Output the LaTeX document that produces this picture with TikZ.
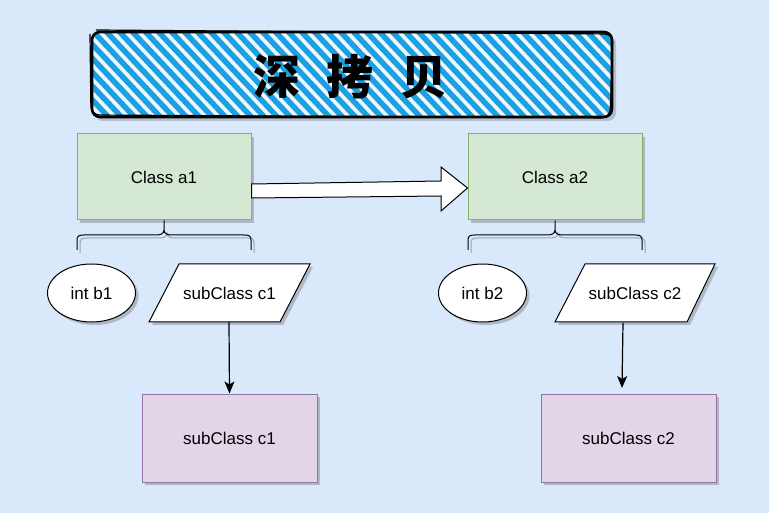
\documentclass[tikz,border=0pt]{standalone}
\usepackage{fontspec}
\setmainfont{Liberation Sans}
\newfontfamily\cjk{Noto Sans CJK SC}
\usetikzlibrary{shapes.geometric,arrows.meta}
\definecolor{bgblue}{HTML}{DAE8FC}
\definecolor{hatch}{HTML}{1BA1E2}
\definecolor{gfill}{HTML}{D5E8D4}
\definecolor{gline}{HTML}{82B366}
\definecolor{pfill}{HTML}{E1D5E7}
\definecolor{pline}{HTML}{9673A6}
\definecolor{shd}{HTML}{9AA4B0}
\tikzset{
  lbl/.style={font=\fontsize{17}{20}\selectfont, text=black},
  classbox/.style={draw=gline, fill=gfill, line width=1pt, minimum width=174pt, minimum height=86pt, inner sep=0pt, lbl},
  subbox/.style={draw=pline, fill=pfill, line width=1pt, minimum width=175pt, minimum height=88pt, inner sep=0pt, lbl},
  oval/.style={ellipse, draw=black, fill=white, line width=1pt, minimum width=88pt, minimum height=58pt, inner sep=0pt, lbl},
  para/.style={draw=black, fill=white, line width=1pt},
  brace/.style={draw=black, line width=1pt},
  braceshd/.style={draw=shd, line width=1pt},
  conn/.style={draw=black, line width=1.2pt, -{Stealth[length=12pt,width=10pt,inset=3pt]}},
}
\begin{document}
\begin{tikzpicture}[x=1pt,y=-1pt]
\fill[bgblue] (0,0) rectangle (769,513);
\useasboundingbox (0,0) rectangle (769,513);

% ---- title ----
\fill[shd, opacity=0.6, rounded corners=8pt] (95,36) rectangle (616,121);
\begin{scope}
  \clip[rounded corners=8pt] (92,32) rectangle (612,117);
  \fill[white!60!bgblue] (92,32) rectangle (612,117);
  \foreach \i in {0,...,48} {
    \draw[hatch, line width=5.5pt] (\i*13+10,26) -- (\i*13+101,123);
  }
\end{scope}
\draw[black, line width=2.6pt, rounded corners=8pt, line join=round] (92,32) rectangle (612,117);
\draw[black, line width=1.2pt, rounded corners=9pt] (90,34) -- (91,115) -- (610,118) -- (613,34) -- (96,30);
\node[font=\cjk\bfseries\fontsize{47}{50}\selectfont, text=black] (title) at (350.5,77) {深\hspace{27pt}拷\hspace{27pt}贝};

% ---- class boxes ----
\fill[shd, opacity=0.7] (80,137) rectangle (254,223);
\fill[shd, opacity=0.7] (471,137) rectangle (645,223);
\node[classbox] (a1) at (164,177) {Class a1};
\node[classbox] (a2) at (555,177) {Class a2};

% ---- big arrow ----
\draw[black, line width=1pt, fill=white, line join=miter]
  (a1.east |- 0,184) -- (441,181) -- (441,167) -- (a2.west |- 0,188) -- (441,211) -- (441,196) -- (a1.east |- 0,198) -- cycle;

% ---- braces ----
\foreach \bx/\nm in {77/a1, 468/a2} {
  \draw[braceshd] (\bx+3,253) -- (\bx+3,243) .. controls (\bx+3,239) and (\bx+5,238) .. (\bx+10,238) -- (\bx+82,238) .. controls (\bx+86,238) and (\bx+90,237) .. (\bx+90,233)
     .. controls (\bx+90,237) and (\bx+94,238) .. (\bx+98,238) -- (\bx+170,238) .. controls (\bx+175,238) and (\bx+177,239) .. (\bx+177,243) -- (\bx+177,253);
  \draw[brace] (\bx,250) -- (\bx,240) .. controls (\bx,236) and (\bx+2,235) .. (\bx+7,235) -- (\bx+79,235) .. controls (\bx+83,235) and (\bx+87,234) .. (\bx+87,230) -- (\nm.south)
     (\bx+87,230) .. controls (\bx+87,234) and (\bx+91,235) .. (\bx+95,235) -- (\bx+167,235) .. controls (\bx+172,235) and (\bx+174,236) .. (\bx+174,240) -- (\bx+174,250);
}

% ---- ellipses ----
\fill[shd, opacity=0.7] (94.5,296) ellipse (44pt and 29pt);
\fill[shd, opacity=0.7] (485.5,296) ellipse (44pt and 29pt);
\node[oval] (b1) at (91.5,293) {int b1};
\node[oval] (b2) at (482.5,293) {int b2};

% ---- parallelograms ----
\fill[shd, opacity=0.7] (152,325) -- (182,267) -- (313,267) -- (283,325) -- cycle;
\fill[shd, opacity=0.7] (558,325) -- (588,267) -- (718,267) -- (690,325) -- cycle;
\draw[para] (149,322) -- (179,264) -- (310,264) -- (280,322) -- cycle;
\draw[para] (555,322) -- (585,264) -- (715,264) -- (687,322) -- cycle;
\node[lbl, inner sep=0pt] (c1) at (229.5,293) {subClass c1};
\node[lbl, inner sep=0pt] (c2) at (635,293) {subClass c2};
\coordinate (c1b) at (229,322);
\coordinate (c2b) at (623,323);

% ---- sub boxes ----
\fill[shd, opacity=0.7] (145,397) rectangle (320,485);
\fill[shd, opacity=0.7] (544,397) rectangle (719,485);
\node[subbox] (d1) at (229.5,438) {subClass c1};
\node[subbox] (d2) at (628.5,438) {subClass c2};
\coordinate (d2t) at (622,388);

\draw[conn] (c1b) -- (d1.north);
\draw[conn] (c2b) -- (d2t);
\end{tikzpicture}
\end{document}
